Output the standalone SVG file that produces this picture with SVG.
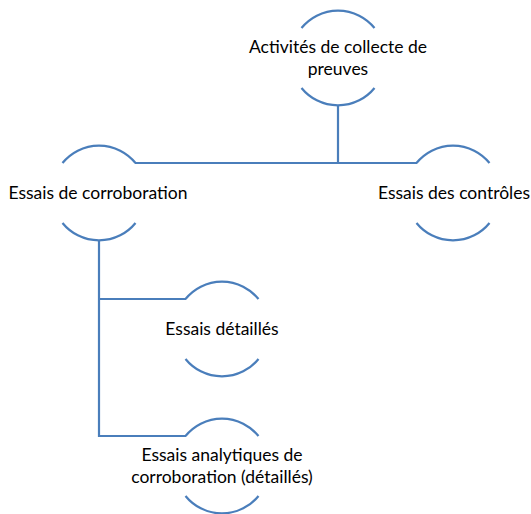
<svg xmlns="http://www.w3.org/2000/svg" width="531" height="514" viewBox="0 0 531 514">
<style>
.arc{fill:none;stroke:#4A7EBB;stroke-width:2.2}
.con{fill:none;stroke:#4A7EBB;stroke-width:2.2}
text{font-family:Lato,"Liberation Sans",sans-serif;font-size:17.5px;fill:#000;text-anchor:middle}
</style>
<rect width="531" height="514" fill="#fff"/>
<g id="connectors">
<path class="con" d="M338 105 V163 M135 163 H417"/>
<path class="con" d="M99 240 V436 H186 M99 299 H186"/>
</g>
<g id="node-activites">
<path class="arc" d="M301.5 28 A47 47 0 0 1 374.5 28 M301.5 88 A47 47 0 0 0 374.5 88"/>
<text x="338" y="53">Activités de collecte de</text>
<text x="338" y="75">preuves</text>
</g>
<g id="node-corroboration">
<path class="arc" d="M62.5 163 A47 47 0 0 1 135.5 163 M62.5 223 A47 47 0 0 0 135.5 223"/>
<text x="98" y="199">Essais de corroboration</text>
</g>
<g id="node-controles">
<path class="arc" d="M416.5 163 A47 47 0 0 1 489.5 163 M416.5 223 A47 47 0 0 0 489.5 223"/>
<text x="454" y="199">Essais des contrôles</text>
</g>
<g id="node-detailles">
<path class="arc" d="M185.5 299 A47 47 0 0 1 258.5 299 M185.5 359 A47 47 0 0 0 258.5 359"/>
<text x="222" y="335">Essais détaillés</text>
</g>
<g id="node-analytiques">
<path class="arc" d="M185.5 436 A47 47 0 0 1 258.5 436 M185.5 496 A47 47 0 0 0 258.5 496"/>
<text x="222" y="461">Essais analytiques de</text>
<text x="222" y="483">corroboration (détaillés)</text>
</g>
</svg>
